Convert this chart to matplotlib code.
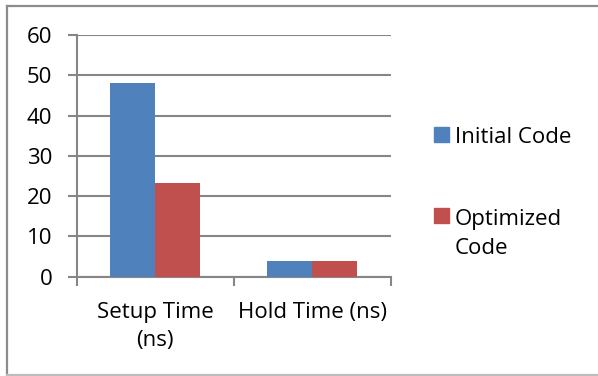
import matplotlib
matplotlib.use("Agg")
import matplotlib.pyplot as plt
from matplotlib.patches import Rectangle
from matplotlib.lines import Line2D
import numpy as np

plt.rcParams['font.family'] = ['Open Sans', 'DejaVu Sans']

categories = ["Setup Time\n(ns)", "Hold Time (ns)"]
series_names = ["Initial Code", "Optimized\nCode"]
initial_code = [48.2, 3.9]
optimized_code = [23.3, 3.9]
yticks = [0, 10, 20, 30, 40, 50, 60]

BLUE = "#4F81BD"
RED = "#C0504D"
GRID = "#868686"
FS = 16

W, H = 598, 376
fig = plt.figure(figsize=(W / 100, H / 100), dpi=100)

# outer chart frame
fig.add_artist(Line2D([6.5 / W, 6.5 / W], [1 - 5.5 / H, 1 - 375 / H], color="#8c8c8c", lw=1.6, transform=fig.transFigure))
fig.add_artist(Line2D([6.5 / W, 597 / W], [1 - 5.5 / H, 1 - 5.5 / H], color="#8c8c8c", lw=1.6, transform=fig.transFigure))
fig.add_artist(Line2D([6.5 / W, 597 / W], [1 - 375 / H, 1 - 375 / H], color="#bdbdbd", lw=1.6, transform=fig.transFigure))

left, right = 76.7 / W, 390.7 / W
bottom, top = 1 - 276.7 / H, 1 - 35 / H
ax = fig.add_axes([left, bottom, right - left, top - bottom])

x = np.arange(len(categories))
bw = 1 / 3.5
ax.bar(x - bw / 2, initial_code, width=bw, color=BLUE, zorder=3)
ax.bar(x + bw / 2, optimized_code, width=bw, color=RED, zorder=3)

ax.set_xlim(-0.5, len(categories) - 0.5)
ax.set_ylim(0, 60)
ax.set_yticks(yticks)
ax.set_yticklabels([str(v) for v in yticks], fontsize=FS)
ax.yaxis.grid(True, color=GRID, lw=1.5, zorder=0)

ax.set_xticks(np.arange(len(categories) + 1) - 0.5)
ax.set_xticklabels([])
ax.set_xticks(x, minor=True)
ax.set_xticklabels(categories, minor=True, fontsize=FS, linespacing=1.45)
ax.tick_params(axis="x", which="minor", length=0, pad=18)
ax.tick_params(axis="x", which="major", length=6.5, width=1.5, color=GRID)
ax.tick_params(axis="y", length=6.5, width=1.5, color=GRID, pad=11)

for s in ["top", "right"]:
    ax.spines[s].set_visible(False)
for s in ["left", "bottom"]:
    ax.spines[s].set_color(GRID)
    ax.spines[s].set_linewidth(1.5)

# legend: swatch plus one baseline per text line
line_step = 29.5
for name, color, ytop, base in [(series_names[0], BLUE, 127.5, 143.3), (series_names[1], RED, 208, 225)]:
    fig.add_artist(Rectangle((434 / W, 1 - (ytop + 15) / H), 15 / W, 15 / H, color=color, transform=fig.transFigure))
    for i, part in enumerate(name.split("\n")):
        fig.text(455 / W, 1 - (base + i * line_step) / H, part, fontsize=FS, va="baseline", ha="left")

fig.savefig("out.png", dpi=100)
